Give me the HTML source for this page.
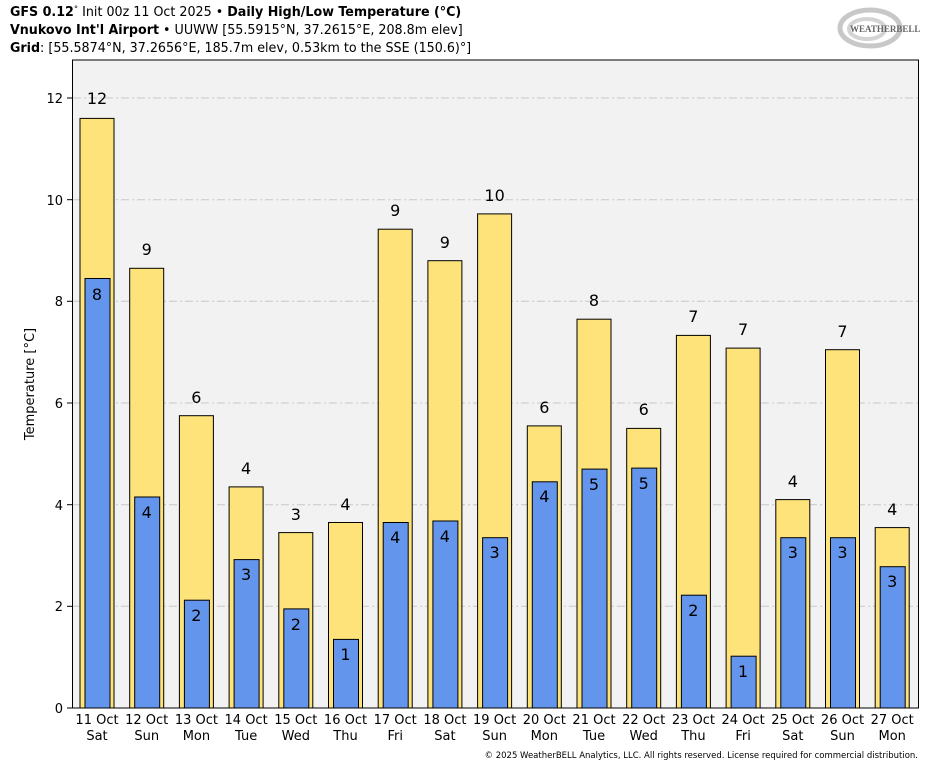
<!DOCTYPE html>
<html><head><meta charset="utf-8"><style>
html,body{margin:0;padding:0;background:#fff;}
svg{display:block;font-family:"DejaVu Sans","Liberation Sans",sans-serif;}
</style></head><body>
<svg width="935" height="768" viewBox="0 0 935 768" xmlns="http://www.w3.org/2000/svg">
<g transform="scale(0.94,1)">
<text x="10.6" y="16" font-size="13.5" fill="#000"><tspan font-weight="bold">GFS 0.12</tspan><tspan font-size="9" dy="-4">°</tspan><tspan dy="4"> Init 00z 11 Oct 2025 • </tspan><tspan font-weight="bold">Daily High/Low Temperature (°C)</tspan></text>
<text x="10.6" y="34" font-size="13.5" fill="#000"><tspan font-weight="bold">Vnukovo Int'l Airport</tspan> • UUWW [55.5915°N, 37.2615°E, 208.8m elev]</text>
<text x="10.6" y="52" font-size="13.5" fill="#000"><tspan font-weight="bold">Grid</tspan>: [55.5874°N, 37.2656°E, 185.7m elev, 0.53km to the SSE (150.6)°]</text>
</g>
<g transform="translate(870,28)">
<ellipse cx="0" cy="0" rx="30" ry="18" fill="none" stroke="#c8c8c8" stroke-width="5"/>
<ellipse cx="-3" cy="1" rx="18" ry="10" fill="none" stroke="#d4d4d4" stroke-width="4"/>
<text x="-20" y="4" font-size="9" font-family="Liberation Serif,serif" font-weight="bold" fill="#666">WEATHERBELL</text>
</g>
<rect x="72.5" y="60" width="846" height="648" fill="#f2f2f2" stroke="#000" stroke-width="1"/>
<g stroke="#c8c8c8" stroke-width="1" stroke-dasharray="8,3,2,3">
<line x1="73" x2="918" y1="98" y2="98"/>
<line x1="73" x2="918" y1="199.7" y2="199.7"/>
<line x1="73" x2="918" y1="301.3" y2="301.3"/>
<line x1="73" x2="918" y1="403" y2="403"/>
<line x1="73" x2="918" y1="504.7" y2="504.7"/>
<line x1="73" x2="918" y1="606.3" y2="606.3"/>
</g>
<g stroke="#000" stroke-width="1">
<line x1="67" x2="72.5" y1="98" y2="98"/><line x1="67" x2="72.5" y1="199.7" y2="199.7"/><line x1="67" x2="72.5" y1="301.3" y2="301.3"/><line x1="67" x2="72.5" y1="403" y2="403"/><line x1="67" x2="72.5" y1="504.7" y2="504.7"/><line x1="67" x2="72.5" y1="606.3" y2="606.3"/><line x1="67" x2="72.5" y1="708" y2="708"/>
</g>
<g font-size="13" text-anchor="end" fill="#000">
<text x="63" y="103">12</text><text x="63" y="205">10</text><text x="63" y="306">8</text><text x="63" y="408">6</text><text x="63" y="510">4</text><text x="63" y="611">2</text><text x="63" y="713">0</text>
</g>
<text transform="translate(34,384) rotate(-90)" font-size="13" text-anchor="middle">Temperature [°C]</text>
<g fill="#fee37b" stroke="#000" stroke-width="1">
<rect x="80" y="118.4" width="34" height="589.6"/>
<rect x="129.7" y="268.3" width="34" height="439.7"/>
<rect x="179.4" y="415.7" width="34" height="292.3"/>
<rect x="229.1" y="486.9" width="34" height="221.1"/>
<rect x="278.8" y="532.6" width="34" height="175.4"/>
<rect x="328.5" y="522.5" width="34" height="185.5"/>
<rect x="378.2" y="229.2" width="34" height="478.8"/>
<rect x="427.9" y="260.7" width="34" height="447.3"/>
<rect x="477.6" y="213.9" width="34" height="494.1"/>
<rect x="527.3" y="425.9" width="34" height="282.1"/>
<rect x="577" y="319.2" width="34" height="388.8"/>
<rect x="626.7" y="428.4" width="34" height="279.6"/>
<rect x="676.4" y="335.4" width="34" height="372.6"/>
<rect x="726.1" y="348.1" width="34" height="359.9"/>
<rect x="775.8" y="499.6" width="34" height="208.4"/>
<rect x="825.5" y="349.7" width="34" height="358.3"/>
<rect x="875.2" y="527.6" width="34" height="180.4"/>
</g>
<g fill="#6495ed" stroke="#000" stroke-width="1">
<rect x="85" y="278.5" width="25" height="429.5"/>
<rect x="134.7" y="497" width="25" height="211"/>
<rect x="184.4" y="600.2" width="25" height="107.8"/>
<rect x="234.1" y="559.6" width="25" height="148.4"/>
<rect x="283.8" y="608.9" width="25" height="99.1"/>
<rect x="333.5" y="639.4" width="25" height="68.6"/>
<rect x="383.2" y="522.5" width="25" height="185.5"/>
<rect x="432.9" y="521" width="25" height="187"/>
<rect x="482.6" y="537.7" width="25" height="170.3"/>
<rect x="532.3" y="481.8" width="25" height="226.2"/>
<rect x="582" y="469.1" width="25" height="238.9"/>
<rect x="631.7" y="468.1" width="25" height="239.9"/>
<rect x="681.4" y="595.2" width="25" height="112.8"/>
<rect x="731.1" y="656.2" width="25" height="51.8"/>
<rect x="780.8" y="537.7" width="25" height="170.3"/>
<rect x="830.5" y="537.7" width="25" height="170.3"/>
<rect x="880.2" y="566.7" width="25" height="141.3"/>
</g>
<g font-size="16" text-anchor="middle" fill="#000">
<text x="97" y="104">12</text><text x="146.7" y="255">9</text><text x="196.4" y="403">6</text><text x="246.1" y="474">4</text><text x="295.8" y="520">3</text><text x="345.5" y="510">4</text><text x="395.2" y="216">9</text><text x="444.9" y="248">9</text><text x="494.6" y="201">10</text><text x="544.3" y="413">6</text><text x="594" y="306">8</text><text x="643.7" y="415">6</text><text x="693.4" y="322">7</text><text x="743.1" y="335">7</text><text x="792.8" y="487">4</text><text x="842.5" y="337">7</text><text x="892.2" y="515">4</text>
<text x="97" y="300">8</text><text x="146.7" y="518">4</text><text x="196.4" y="621">2</text><text x="246.1" y="580">3</text><text x="295.8" y="630">2</text><text x="345.5" y="660">1</text><text x="395.2" y="543">4</text><text x="444.9" y="542">4</text><text x="494.6" y="558">3</text><text x="544.3" y="502">4</text><text x="594" y="490">5</text><text x="643.7" y="489">5</text><text x="693.4" y="616">2</text><text x="743.1" y="677">1</text><text x="792.8" y="558">3</text><text x="842.5" y="558">3</text><text x="892.2" y="587">3</text>
</g>
<g font-size="13" text-anchor="middle" fill="#000">
<text x="97" y="724">11 Oct</text><text x="97" y="740">Sat</text>
<text x="146.7" y="724">12 Oct</text><text x="146.7" y="740">Sun</text>
<text x="196.4" y="724">13 Oct</text><text x="196.4" y="740">Mon</text>
<text x="246.1" y="724">14 Oct</text><text x="246.1" y="740">Tue</text>
<text x="295.8" y="724">15 Oct</text><text x="295.8" y="740">Wed</text>
<text x="345.5" y="724">16 Oct</text><text x="345.5" y="740">Thu</text>
<text x="395.2" y="724">17 Oct</text><text x="395.2" y="740">Fri</text>
<text x="444.9" y="724">18 Oct</text><text x="444.9" y="740">Sat</text>
<text x="494.6" y="724">19 Oct</text><text x="494.6" y="740">Sun</text>
<text x="544.3" y="724">20 Oct</text><text x="544.3" y="740">Mon</text>
<text x="594" y="724">21 Oct</text><text x="594" y="740">Tue</text>
<text x="643.7" y="724">22 Oct</text><text x="643.7" y="740">Wed</text>
<text x="693.4" y="724">23 Oct</text><text x="693.4" y="740">Thu</text>
<text x="743.1" y="724">24 Oct</text><text x="743.1" y="740">Fri</text>
<text x="792.8" y="724">25 Oct</text><text x="792.8" y="740">Sat</text>
<text x="842.5" y="724">26 Oct</text><text x="842.5" y="740">Sun</text>
<text x="892.2" y="724">27 Oct</text><text x="892.2" y="740">Mon</text>
</g>
<text x="918" y="758" font-size="8.5" text-anchor="end" fill="#000">© 2025 WeatherBELL Analytics, LLC. All rights reserved. License required for commercial distribution.</text>
</svg>
</body></html>
